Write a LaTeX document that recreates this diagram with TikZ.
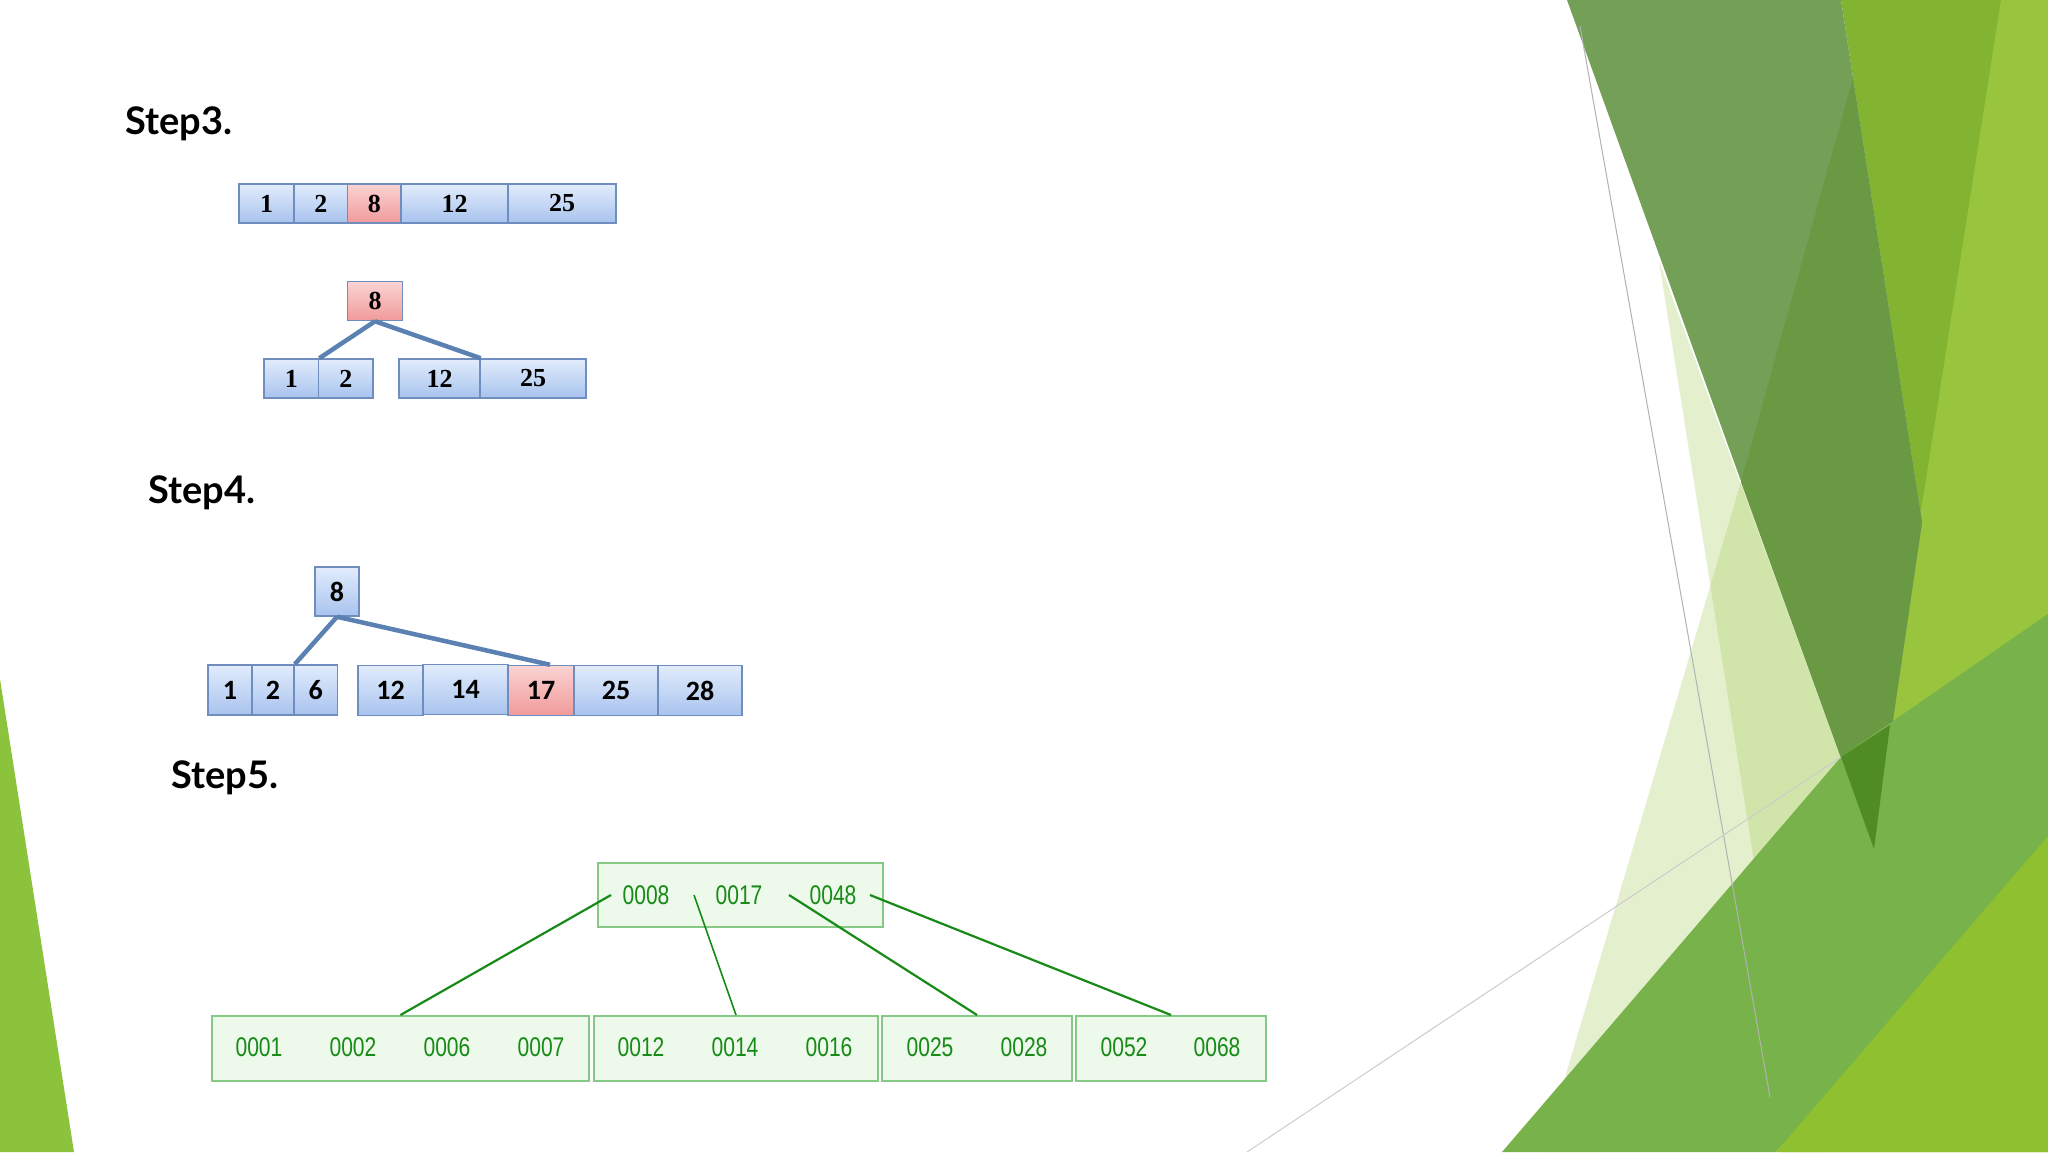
\documentclass[tikz,border=0pt]{standalone}
\usepackage{fontspec}
\setmainfont{Liberation Serif}
\newfontfamily\labfont{Lato}
\newfontfamily\cellfontA{Liberation Serif}
\newfontfamily\cellfontB{Carlito}
\newfontfamily\gfont{Liberation Sans}
\begin{document}
\begin{tikzpicture}[x=1pt,y=-1pt,
  steplabel/.style={anchor=west,font=\labfont\bfseries\fontsize{38}{38}\selectfont,text=black},
  bcell/.style={draw=cellline,line width=1.5pt,top color=celltop,bottom color=cellbot,inner sep=0pt},
  rcell/.style={bcell,top color=redtop,bottom color=redbot},
  tA/.style={font=\cellfontA\bfseries\fontsize{26}{26}\selectfont},
  tB/.style={font=\cellfontB\bfseries\fontsize{28}{28}\selectfont},
  tree/.style={draw=treeline,line width=4.5pt},
  gbox/.style={draw=gline,line width=2pt,fill=gfill,inner sep=0pt},
  gtxt/.style={font=\gfont\fontsize{27}{27}\selectfont,text=gtext,xscale=0.78},
  glink/.style={draw=gtext,line width=2.2pt}
]
\definecolor{cellline}{HTML}{6F8DBE}
\definecolor{celltop}{HTML}{E2ECFC}
\definecolor{cellbot}{HTML}{A8C3EE}
\definecolor{redtop}{HTML}{FBD3D3}
\definecolor{redbot}{HTML}{F09A9A}
\definecolor{treeline}{HTML}{5B80B2}
\definecolor{gline}{HTML}{86C886}
\definecolor{gfill}{HTML}{EDF9EA}
\definecolor{gtext}{HTML}{178A17}
\definecolor{paleg}{RGB}{160,200,80}
\useasboundingbox (0,0) rectangle (2048,1152);
\fill[white] (0,0) rectangle (2048,1152);
% decoration
\fill[color={rgb,255:red,140;green,195;blue,60}] (0,679) -- (74,1152) -- (0,1152) -- cycle;
\fill[paleg,opacity=0.28] (1659,261) -- (1874,849) -- (1830,1152) -- (1800,1152) -- cycle;
\fill[paleg,opacity=0.28] (1741,482) -- (1874,849) -- (1600,1152) -- (1543,1152) -- cycle;
\fill[color={rgb,255:red,130;green,180;blue,50}] (1841,0) -- (2048,0) -- (2048,1152) -- (1780,1152) -- (1874,849) -- (1922,522) -- cycle;
\fill[color={rgb,255:red,152;green,196;blue,62}] (2001,0) -- (2048,0) -- (2048,640) -- (1858,914) -- cycle;
\fill[color={rgb,255:red,116;green,159;blue,86}] (1567,0) -- (1841,0) -- (1922,522) -- (1874,849) -- cycle;
\fill[color={rgb,255:red,106;green,153;blue,68}] (1853,78) -- (1741,482) -- (1874,849) -- (1922,522) -- cycle;
\fill[color={rgb,255:red,120;green,178;blue,74}] (1502,1152) -- (1841,757) -- (2048,614) -- (2048,836) -- (1776,1152) -- cycle;
\fill[color={rgb,255:red,80;green,140;blue,36}] (1841,757) -- (1890,725) -- (1874,849) -- cycle;
\fill[color={rgb,255:red,143;green,192;blue,48}] (1776,1152) -- (2048,836) -- (2048,1152) -- cycle;
\draw[gray!60,line width=1pt] (1580,26) -- (1770,1097);
\draw[gray!40,line width=1pt] (1247,1152) -- (1841,757);
% labels
\node[steplabel] (s3) at (122,124) {Step3.};
\node[steplabel] (s4) at (145,493) {Step4.};
\node[steplabel] (s5) at (168,778) {Step5.};
% step3 row (y 184-223)
\node[bcell,minimum width=55pt,minimum height=39pt,tA] (a1) at (266.5,203.5) {1};
\node[bcell,minimum width=53.5pt,minimum height=39pt,tA] (a2) at (320.75,203.5) {2};
\node[rcell,minimum width=53.5pt,minimum height=39pt,tA] (a3) at (374.25,203.5) {8};
\node[bcell,minimum width=107pt,minimum height=39pt,tA] (a4) at (454.5,203.5) {12};
\node[bcell,minimum width=108pt,minimum height=39pt,tA] (a5) at (562,203.5) {25};
% step3 tree
\node[rcell,minimum width=55pt,minimum height=39pt,tA] (b8) at (375,301) {8};
\node[bcell,minimum width=54.6pt,minimum height=39pt,tA] (b1) at (291.3,378.5) {1};
\node[bcell,minimum width=54.4pt,minimum height=39pt,tA] (b2) at (345.8,378.5) {2};
\node[bcell,minimum width=81pt,minimum height=39pt,tA] (b12) at (439.5,378.5) {12};
\node[bcell,minimum width=106pt,minimum height=39pt,tA] (b25) at (533,378.5) {25};
\draw[tree] (b8.south) -- (b1.north east);
\draw[tree] (b8.south) -- (b12.north east);
% step4 (row y 665-715)
\node[bcell,minimum width=44pt,minimum height=49pt,tB] (c8) at (337,591.5) {8};
\node[bcell,minimum width=44pt,minimum height=50pt,tB] (c1) at (230,690) {1};
\node[bcell,minimum width=42pt,minimum height=50pt,tB] (c2) at (273,690) {2};
\node[bcell,minimum width=43.5pt,minimum height=50pt,tB] (c6) at (315.75,690) {6};
\node[bcell,minimum width=65pt,minimum height=50pt,tB] (c12) at (390.5,690.5) {12};
\node[bcell,minimum width=85pt,minimum height=50pt,tB] (c14) at (465.5,689.5) {14};
\node[rcell,minimum width=66pt,minimum height=50pt,tB] (c17) at (541,690.5) {17};
\node[bcell,minimum width=84pt,minimum height=50pt,tB] (c25) at (616,690.5) {25};
\node[bcell,minimum width=84pt,minimum height=50pt,tB] (c28) at (700,690.5) {28};
\draw[tree] (c8.south) -- (c2.north east);
\draw[tree] (c8.south) -- ([xshift=9pt]c17.north);
% step5
\node[gbox,minimum width=285pt,minimum height=64pt] (top) at (740.5,895) {};
\node[gbox,minimum width=377pt,minimum height=65pt] (l1) at (400.5,1048.5) {};
\node[gbox,minimum width=284pt,minimum height=65pt] (l2) at (736,1048.5) {};
\node[gbox,minimum width=190pt,minimum height=65pt] (l3) at (977,1048.5) {};
\node[gbox,minimum width=190pt,minimum height=65pt] (l4) at (1171,1048.5) {};
\node[gtxt] (k1) at (646,895) {0008};
\node[gtxt] (k2) at (739,895) {0017};
\node[gtxt] (k3) at (833,895) {0048};
\node[gtxt] (v1) at (259,1047) {0001};
\node[gtxt] (v2) at (353,1047) {0002};
\node[gtxt] (v3) at (447,1047) {0006};
\node[gtxt] (v4) at (541,1047) {0007};
\node[gtxt] (v5) at (641,1047) {0012};
\node[gtxt] (v6) at (735,1047) {0014};
\node[gtxt] (v7) at (829,1047) {0016};
\node[gtxt] (v8) at (930,1047) {0025};
\node[gtxt] (v9) at (1024,1047) {0028};
\node[gtxt] (v10) at (1124,1047) {0052};
\node[gtxt] (v11) at (1217,1047) {0068};
\coordinate (p0) at (611,895);
\coordinate (p1) at (694,895);
\coordinate (p2) at (789,895);
\coordinate (p3) at (870,895);
\draw[glink] (p0) -- (l1.north);
\draw[glink,line width=1.6pt] (p1) -- (l2.north);
\draw[glink] (p2) -- (l3.north);
\draw[glink] (p3) -- (l4.north);
\end{tikzpicture}
\end{document}
